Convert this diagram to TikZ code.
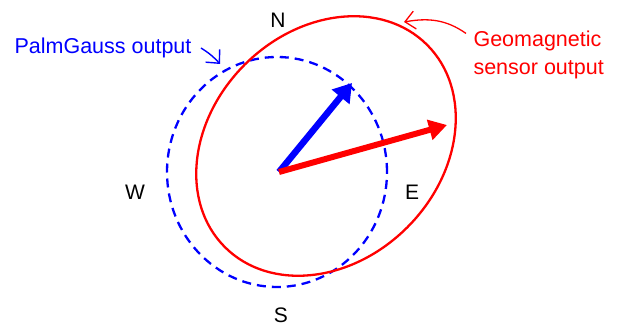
\documentclass[tikz,border=0pt]{standalone}
\usepackage{fontspec}
\setmainfont{Liberation Sans}
\usetikzlibrary{arrows.meta}
\definecolor{palmBlue}{RGB}{0, 0, 255}
\definecolor{geoRed}{RGB}{255, 0, 0}
\tikzset{
  dirlabel/.style={font=\fontsize{21}{24}\selectfont, text=black},
  outlabelB/.style={font=\fontsize{21.5}{28}\selectfont, text=palmBlue, align=left},
  outlabelR/.style={font=\fontsize{21.5}{28}\selectfont, text=geoRed, align=left},
  vecB/.style={draw=palmBlue, line width=6.5pt,
               -{Triangle[length=18pt, width=22pt]}},
  vecR/.style={draw=geoRed, line width=6pt,
               -{Triangle[length=18pt, width=20pt]}},
  noteB/.style={draw=palmBlue, line width=1.4pt, -{Straight Barb[length=10pt, width=19pt]}},
  noteR/.style={draw=geoRed, line width=1.3pt, -{Straight Barb[length=10pt, width=18pt]}},
}

\begin{document}
\begin{tikzpicture}[x=1pt, y=1pt]
    \useasboundingbox (0,0) rectangle (629,326);

    % outputs
    \draw[palmBlue, line width=2.3pt, dash pattern=on 9pt off 6pt]
      (277,154) ellipse [x radius=110, y radius=115];
    \draw[geoRed, line width=2.3pt, rotate around={45:(326,180)}]
      (326,180) ellipse [x radius=143, y radius=115];

    % compass
    \node[dirlabel] (N) at (278,306) {N};
    \node[dirlabel] (W) at (135,134) {W};
    \node[dirlabel] (E) at (412,134) {E};
    \node[dirlabel] (S) at (281,11) {S};

    % vectors
    \coordinate (O) at (279,154);
    \coordinate (tipB) at (352,243);
    \coordinate (tipR) at (447,201);
    \draw[vecB] (O) -- (tipB);
    \draw[vecR] (O) -- (tipR);

    % labels
    \node[outlabelB] (palm) at (103,278) {PalmGauss output};
    \node[outlabelR, anchor=west] (geo) at (470,271) {Geomagnetic\\sensor output};
    \coordinate (onB) at (220,262);
    \coordinate (onR) at (404,304);
    \draw[noteB] (palm.east) ++(6,0) to[bend left=8] (onB);
    \draw[noteR] (geo.north west) ++(-4,-6) to[out=145, in=10] (onR);
  \end{tikzpicture}
\end{document}
